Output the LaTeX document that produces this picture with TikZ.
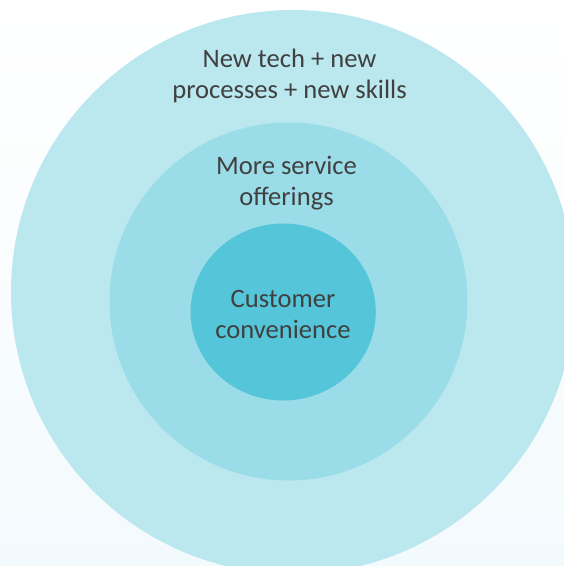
\documentclass[tikz,border=0pt]{standalone}
\usepackage{fontspec}
\setmainfont{Carlito}
\definecolor{ringouter}{HTML}{BAE8EE}
\definecolor{ringmid}{HTML}{9ADDE9}
\definecolor{ringinner}{HTML}{55C5D9}
\definecolor{labeltext}{HTML}{404040}
\definecolor{bgbottom}{HTML}{F3FAFD}
\tikzset{
  ringlabel/.style={align=center, inner sep=0pt, text=labeltext,
    font=\fontsize{26.6}{31}\selectfont}
}
\begin{document}
\begin{tikzpicture}[x=1pt,y=-1pt]
\useasboundingbox (0,0) rectangle (564,566);
\shade[top color=white, bottom color=bgbottom] (0,0) rectangle (564,566);
\begin{scope}
\clip (0,0) rectangle (564,566);
\fill[ringouter] (293,292) circle (282);
\fill[ringmid] (288.5,301.5) circle (179);
\fill[ringinner] (283.2,312) ellipse [x radius=92.6, y radius=88.5];
\end{scope}
\node[ringlabel] (outerlabel) at (289.5,75.5) {New tech + new\\processes + new skills};
\node[ringlabel] (midlabel) at (286.5,183.5) {More service\\offerings};
\node[ringlabel] (innerlabel) at (283,314) {Customer\\convenience};
\end{tikzpicture}
\end{document}
